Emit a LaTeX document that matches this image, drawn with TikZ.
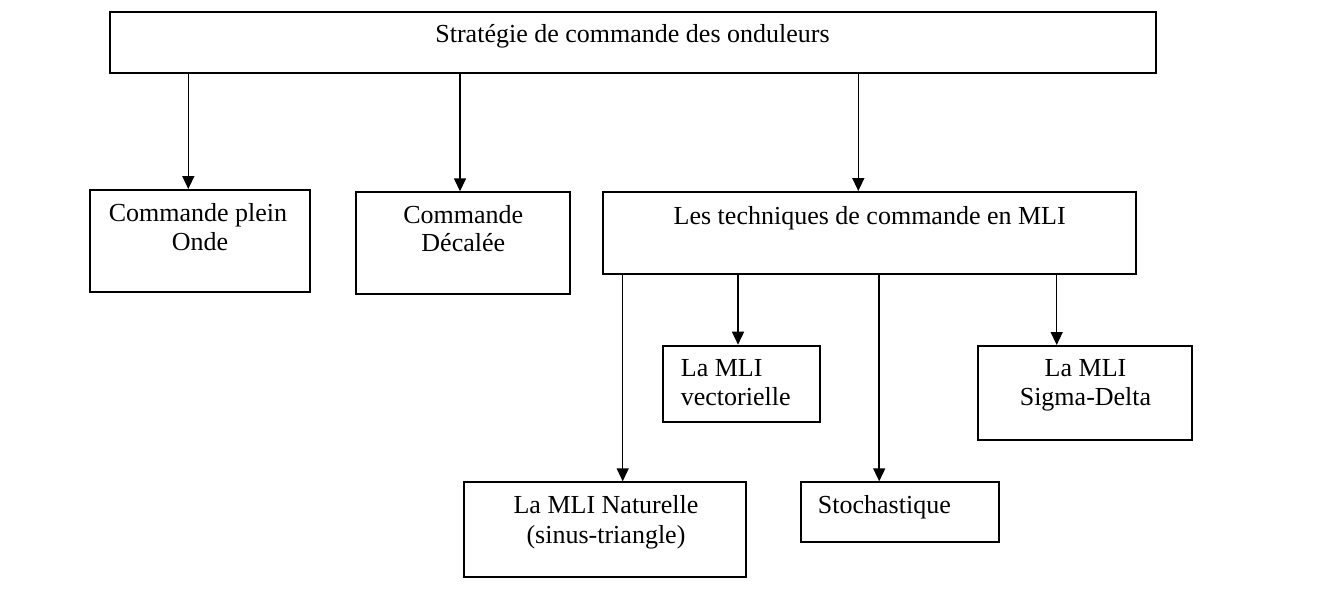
\documentclass[tikz,border=0pt]{standalone}
\usepackage{fontspec}
\setmainfont{Liberation Serif}
\usetikzlibrary{arrows.meta}
\begin{document}
\begin{tikzpicture}[x=1pt,y=-1pt,
  box/.style={draw=black,line width=2pt,inner sep=0pt,minimum width=#1},
  lbl/.style={inner sep=0pt,font=\fontsize{26}{29}\selectfont,text=black},
  arr/.style={line width=1.5pt,-{Triangle[length=13pt,width=12pt]}}]
\useasboundingbox[fill=white] (0,0) rectangle (1338,597);
% boxes
\node[box=1046pt,minimum height=61pt] (top) at (632.5,42) {};
\node[box=220pt,minimum height=101.7pt] (b1) at (200,240.85) {};
\node[box=214pt,minimum height=101.7pt] (b2) at (463,243.15) {};
\node[box=533pt,minimum height=82pt] (b3) at (869.8,233) {};
\node[box=157.3pt,minimum height=76.6pt] (b4) at (741.35,384) {};
\node[box=213.4pt,minimum height=94pt] (b5) at (1085,393) {};
\node[box=281.7pt,minimum height=94.4pt] (b6) at (605.15,529.5) {};
\node[box=198.3pt,minimum height=59.4pt] (b7) at (899.85,512) {};
% texts
\node[lbl,anchor=base] (t0) at (632.5,42.7) {Stratégie de commande des onduleurs};
\node[lbl,anchor=base] (t1a) at (198,221.7) {Commande plein};
\node[lbl,anchor=base] (t1b) at (200,250) {Onde};
\node[lbl,anchor=base] (t2a) at (463.3,223.3) {Commande};
\node[lbl,anchor=base] (t2b) at (463.3,251.7) {Décalée};
\node[lbl,anchor=base] (t3) at (869.7,224) {Les techniques de commande en MLI};
\node[lbl,anchor=base west] (t4a) at (680.7,376.7) {La MLI};
\node[lbl,anchor=base west] (t4b) at (680.7,405.3) {vectorielle};
\node[lbl,anchor=base] (t5a) at (1085.5,376.7) {La MLI};
\node[lbl,anchor=base] (t5b) at (1085.5,405.5) {Sigma-Delta};
\node[lbl,anchor=base] (t6a) at (606,513.3) {La MLI Naturelle};
\node[lbl,anchor=base] (t6b) at (606,543.3) {(sinus-triangle)};
\node[lbl,anchor=base west] (t7) at (817.7,513.3) {Stochastique};
% arrows
\draw[arr] (top.south -| 188.3,0) -- (b1.north -| 188.3,0);
\draw[arr] (top.south -| 460,0) -- (b2.north -| 460,0);
\draw[arr] (top.south -| 858.3,0) -- (b3.north -| 858.3,0);
\draw[arr] (b3.south -| 622.7,0) -- (b6.north -| 622.7,0);
\draw[arr] (b3.south -| 738,0) -- (b4.north -| 738,0);
\draw[arr] (b3.south -| 879.2,0) -- (b7.north -| 879.2,0);
\draw[arr] (b3.south -| 1056.7,0) -- (b5.north -| 1056.7,0);
\end{tikzpicture}
\end{document}
